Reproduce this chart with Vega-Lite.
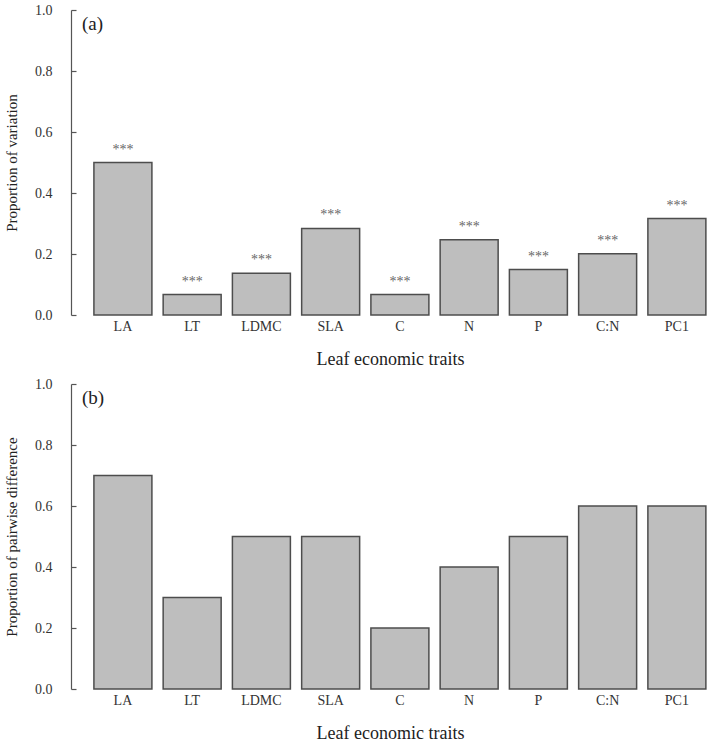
{
  "$schema": "https://vega.github.io/schema/vega-lite/v6.json",
  "padding": {"left": 4, "top": 3, "right": 0, "bottom": 0},
  "autosize": {"type": "pad"},
  "background": "white",
  "data": {"values": [
    {"trait": "LA", "variation": 0.500, "pairwise": 0.7, "sig": "***"},
    {"trait": "LT", "variation": 0.067, "pairwise": 0.3, "sig": "***"},
    {"trait": "LDMC", "variation": 0.137, "pairwise": 0.5, "sig": "***"},
    {"trait": "SLA", "variation": 0.284, "pairwise": 0.5, "sig": "***"},
    {"trait": "C", "variation": 0.067, "pairwise": 0.2, "sig": "***"},
    {"trait": "N", "variation": 0.247, "pairwise": 0.4, "sig": "***"},
    {"trait": "P", "variation": 0.149, "pairwise": 0.5, "sig": "***"},
    {"trait": "C:N", "variation": 0.201, "pairwise": 0.6, "sig": "***"},
    {"trait": "PC1", "variation": 0.316, "pairwise": 0.6, "sig": "***"}
  ]},
  "bounds": "flush",
  "spacing": 69,
  "vconcat": [
    {
      "width": 638,
      "height": 305,
      "title": {"text": "(a)", "anchor": "start", "frame": "group", "orient": "top", "offset": 0, "dx": 11, "dy": 40, "baseline": "middle", "fontSize": 19, "font": "Liberation Serif", "fontWeight": "normal", "color": "#222"},
      "layer": [
        {
          "mark": {"type": "bar", "fill": "#bebebe", "stroke": "#4d4d4d", "strokeWidth": 1.5},
          "encoding": {
            "x": {"field": "trait", "type": "nominal", "sort": null,
                  "axis": {"title": "Leaf economic traits"},
                  "scale": {"paddingInner": 0.1625, "paddingOuter": 0.188, "align": 0.88}},
            "y": {"field": "variation", "type": "quantitative",
                  "axis": {"title": "Proportion of variation", "values": [0, 0.2, 0.4, 0.6, 0.8, 1.0], "format": ".1f"},
                  "scale": {"domain": [0, 1], "nice": false}}
          }
        },
        {
          "mark": {"type": "text", "baseline": "alphabetic", "dy": -9, "fontSize": 14, "font": "Liberation Serif", "color": "#666"},
          "encoding": {
            "x": {"field": "trait", "type": "nominal", "sort": null},
            "y": {"field": "variation", "type": "quantitative"},
            "text": {"field": "sig"}
          }
        }
      ]
    },
    {
      "width": 638,
      "height": 305,
      "title": {"text": "(b)", "anchor": "start", "frame": "group", "orient": "top", "offset": 0, "dx": 11, "dy": 40, "baseline": "middle", "fontSize": 19, "font": "Liberation Serif", "fontWeight": "normal", "color": "#222"},
      "mark": {"type": "bar", "fill": "#bebebe", "stroke": "#4d4d4d", "strokeWidth": 1.5},
      "encoding": {
        "x": {"field": "trait", "type": "nominal", "sort": null,
              "axis": {"title": "Leaf economic traits"},
              "scale": {"paddingInner": 0.1625, "paddingOuter": 0.188, "align": 0.88}},
        "y": {"field": "pairwise", "type": "quantitative",
              "axis": {"title": "Proportion of pairwise difference", "values": [0, 0.2, 0.4, 0.6, 0.8, 1.0], "format": ".1f"},
              "scale": {"domain": [0, 1], "nice": false}}
      }
    }
  ],
  "resolve": {"scale": {"x": "independent", "y": "independent"}},
  "config": {
    "view": {"stroke": null},
    "font": "Liberation Serif",
    "axisX": {
      "domain": false, "ticks": false, "labelAngle": 0, "labelFontSize": 14, "labelColor": "#333",
      "labelPadding": 4, "titleFontSize": 18, "titleFontWeight": "normal", "titleColor": "#222", "titlePadding": 17,
      "labelFont": "Liberation Serif", "titleFont": "Liberation Serif"
    },
    "axisY": {
      "domain": true, "domainColor": "#555", "domainWidth": 1.2, "ticks": true, "tickSize": -5, "tickColor": "#555", "tickWidth": 1.2,
      "grid": false,
      "labelFontSize": 14, "labelColor": "#333", "labelPadding": 24, "labelFont": "Liberation Serif",
      "titleFontSize": 15, "titleFontWeight": "normal", "titleColor": "#222", "titlePadding": 15, "titleFont": "Liberation Serif"
    }
  }
}
